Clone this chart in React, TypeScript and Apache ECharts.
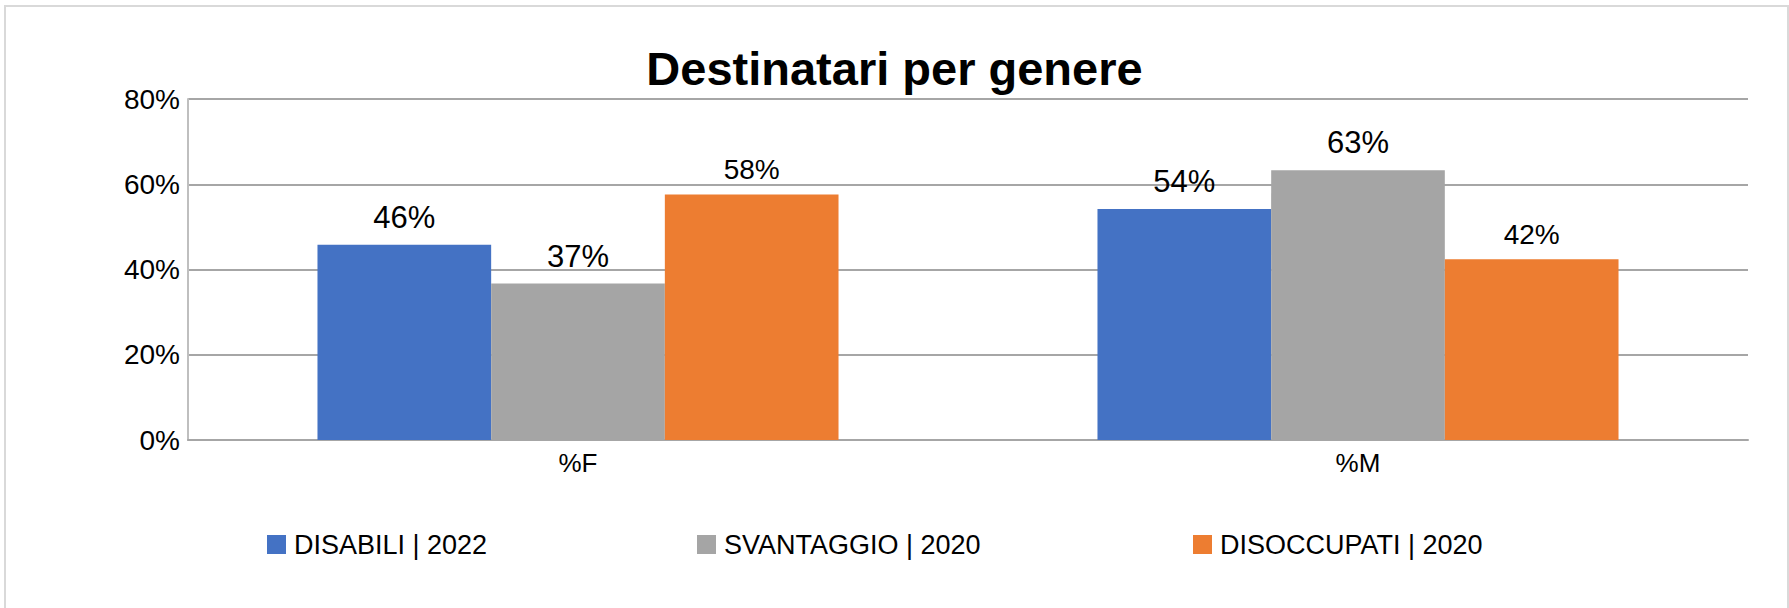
import React, { useEffect, useRef } from "react";
import * as echarts from "echarts";

const categories = ["%F", "%M"];
const seriesNames = ["DISABILI | 2022", "SVANTAGGIO | 2020", "DISOCCUPATI | 2020"];
const disabili = [0.458, 0.542];
const svantaggio = [0.367, 0.633];
const disoccupati = [0.576, 0.424];
const colors = ["#4472C4", "#A5A5A5", "#ED7D31"];
const labelSizes = [31, 31, 28];
const legendLefts = [267, 697, 1193];

const FONT = "Liberation Sans";

export default function App() {
  const ref = useRef<HTMLDivElement>(null);
  useEffect(() => {
    if (!ref.current) return;
    const chart = echarts.init(ref.current, undefined, { renderer: "svg" });
    const values = [disabili, svantaggio, disoccupati];
    const pct = (v: number) => Math.round(v * 100) + "%";
    chart.setOption({
      animation: false,
      backgroundColor: "#ffffff",
      title: {
        text: "Destinatari per genere",
        left: "center",
        top: 45,
        padding: 0,
        textStyle: { fontFamily: FONT, fontWeight: "bold", fontSize: 47, color: "#000" },
      },
      graphic: [
        {
          type: "rect",
          shape: { x: 5, y: 6, width: 1783, height: 640 },
          style: { fill: "none", stroke: "#d9d9d9", lineWidth: 2 },
          silent: true,
        },
      ],
      legend: seriesNames.map((n, i) => ({
        data: [n],
        left: legendLefts[i],
        top: 531,
        padding: 0,
        itemWidth: 19,
        itemHeight: 19,
        icon: "rect",
        textStyle: { fontFamily: FONT, fontSize: 27, color: "#000", padding: [0, 0, 0, 3] },
      })),
      grid: { left: 188, right: 41, top: 99, bottom: 168 },
      xAxis: {
        type: "category",
        data: categories,
        axisTick: { show: false },
        axisLine: { lineStyle: { color: "#a6a6a6", width: 2 } },
        axisLabel: { fontFamily: FONT, fontSize: 26, color: "#000", margin: 10 },
      },
      yAxis: {
        type: "value",
        min: 0,
        max: 0.8,
        interval: 0.2,
        axisLine: { show: true, lineStyle: { color: "#bfbfbf", width: 2 } },
        axisTick: { show: false },
        splitLine: { lineStyle: { color: "#a6a6a6", width: 2 } },
        axisLabel: { fontFamily: FONT, fontSize: 28, color: "#000", margin: 8, formatter: pct },
      },
      series: seriesNames.map((n, i) => ({
        name: n,
        type: "bar",
        data: values[i],
        barGap: "0%",
        barCategoryGap: "33.2%",
        itemStyle: { color: colors[i] },
        label: {
          show: true,
          position: "top",
          distance: i === 2 ? 11 : 12,
          fontFamily: FONT,
          fontSize: labelSizes[i],
          color: "#000",
          formatter: (p: any) => pct(p.value),
        },
      })),
    });
    return () => chart.dispose();
  }, []);
  return (
    <div
      ref={ref}
      style={{ position: "fixed", left: 0, top: 0, width: 1789, height: 608 }}
    />
  );
}
